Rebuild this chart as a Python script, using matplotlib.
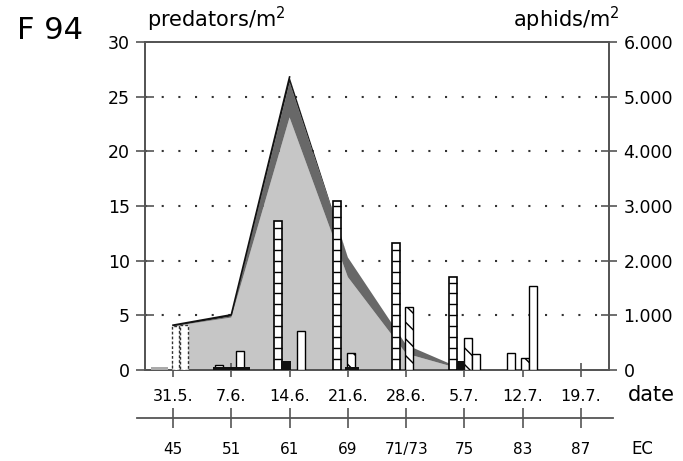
import matplotlib

matplotlib.use("Agg")
import matplotlib.pyplot as plt  # noqa: E402

# --- data (x in days after 31.5.) ---
sample_days = [0, 7, 14, 21, 28, 35]
aphid_light = [800, 960, 4620, 1700, 300, 0]
aphid_dark = [0, 20, 640, 360, 160, 0]
aphid_black = [20, 30, 100, 0, 0, 0]

date_days = [0, 7, 14, 21, 28, 35, 42, 49]
date_labels = ["31.5.", "7.6.", "14.6.", "21.6.", "28.6.", "5.7.", "12.7.", "19.7."]
ec_labels = ["45", "51", "61", "69", "71/73", "75", "83", "87"]

# predator bars: position (days), height (predators/m2)
ladder_x = [12.6, 19.7, 26.8, 33.6]
ladder_h = [13.6, 15.5, 11.6, 8.5]
hatched_x = [21.4, 28.3, 35.4, 42.3]
hatched_h = [1.6, 5.8, 2.9, 1.1]
open_x = [5.5, 8.1, 15.4, 36.4, 40.6, 43.2]
open_h = [0.5, 1.7, 3.6, 1.5, 1.6, 7.7]
dotted_x = [0.3, 1.3]
dotted_h = [4.0, 4.1]
black_x = [7.0, 13.6, 21.5, 34.6]
black_h = [0.25, 0.8, 0.3, 0.8]
black_w = [4.4, 1.2, 1.6, 0.9]
grey_x = [-1.6]
grey_h = [0.3]

W, H = 683, 461
PX_DAY = 408 / 49
DAY0 = 173


def box(x0, y0, x1, y1):
    return [x0 / W, 1 - y1 / H, (x1 - x0) / W, (y1 - y0) / H]


def day(xpx):
    return (xpx - DAY0) / PX_DAY


fig = plt.figure(figsize=(W / 100, H / 100), dpi=100)
ax = fig.add_axes(box(145, 42, 609, 370))
axr = ax.twinx()
ax.set_zorder(2)
axr.set_zorder(1)
ax.patch.set_visible(False)

spc = "#555555"
for a in (ax, axr):
    for s in a.spines.values():
        s.set_color(spc)
        s.set_linewidth(1.3)

# aphids (right axis)
for yv in range(1000, 6000, 1000):
    axr.axhline(yv, ls=(0, (1, 7)), lw=1.5, color="#333333", zorder=0)
axr.stackplot(sample_days, aphid_light, aphid_dark, aphid_black,
              colors=["#c6c6c6", "#686868", "#1c1c1c"], linewidth=0, zorder=1)
tot = [a + b + c for a, b, c in zip(aphid_light, aphid_dark, aphid_black)]
axr.plot(sample_days[:3], tot[:3], color="#111111", lw=1.2, zorder=2)
axr.set_ylim(0, 6000)
axr.set_yticks(range(0, 7000, 1000),
               ["0", "1.000", "2.000", "3.000", "4.000", "5.000", "6.000"])
axr.tick_params(axis="y", direction="inout", length=12, width=1.2, pad=4.5,
                labelsize=12.5, color=spc)

# predators (left axis)
bw = 0.95
ax.bar(ladder_x, ladder_h, width=bw, color="white", edgecolor="black", lw=1.2, zorder=3)
for x, h in zip(ladder_x, ladder_h):
    ax.hlines(range(1, int(h) + 1), x - bw / 2, x + bw / 2, color="black", lw=1.0, zorder=3.5)
ax.bar(hatched_x, hatched_h, width=bw, color="white", edgecolor="black",
       hatch="\\\\", lw=1.0, zorder=3)
ax.bar(open_x, open_h, width=bw, color="white", edgecolor="black", lw=1.0, zorder=3)
ax.bar(dotted_x, dotted_h, width=bw, color="white", edgecolor="#333333",
       ls=(0, (2, 1.5)), lw=1.0, zorder=3)
ax.bar(black_x, black_h, width=black_w, color="#111111", zorder=4)
ax.bar(grey_x, grey_h, width=2.0, color="#aaaaaa", zorder=3)

ax.set_ylim(0, 30)
ax.set_xlim(day(145), day(609))
ax.set_yticks(range(0, 31, 5))
ax.tick_params(axis="y", direction="inout", length=13, width=1.2, pad=4.5,
               labelsize=12.5, color=spc)
ax.set_xticks(date_days, date_labels)
ax.tick_params(axis="x", direction="inout", length=9.5, width=1.2, pad=9,
               labelsize=11.5, color=spc)

# EC scale
axe = fig.add_axes(box(137, 417, 613, 418))
axe.patch.set_visible(False)
for k in ("left", "right", "top"):
    axe.spines[k].set_visible(False)
axe.spines["bottom"].set_color(spc)
axe.spines["bottom"].set_linewidth(1.3)
axe.set_xlim(day(137), day(613))
axe.set_yticks([])
axe.set_xticks(date_days, ec_labels)
axe.tick_params(axis="x", direction="inout", length=14.4, width=1.2, pad=10,
                labelsize=11, color=spc)

fig.text(17 / W, 1 - 39 / H, "F 94", fontsize=22, va="baseline")
fig.text(147 / W, 1 - 27 / H, "predators/m$^2$", fontsize=15, va="baseline")
fig.text(620 / W, 1 - 27 / H, "aphids/m$^2$", fontsize=15, ha="right", va="baseline")
fig.text(651 / W, 1 - 401 / H, "date", fontsize=15, ha="center", va="baseline")
fig.text(642 / W, 1 - 454 / H, "EC", fontsize=12, ha="center", va="baseline")

fig.savefig("out.png", dpi=100)
